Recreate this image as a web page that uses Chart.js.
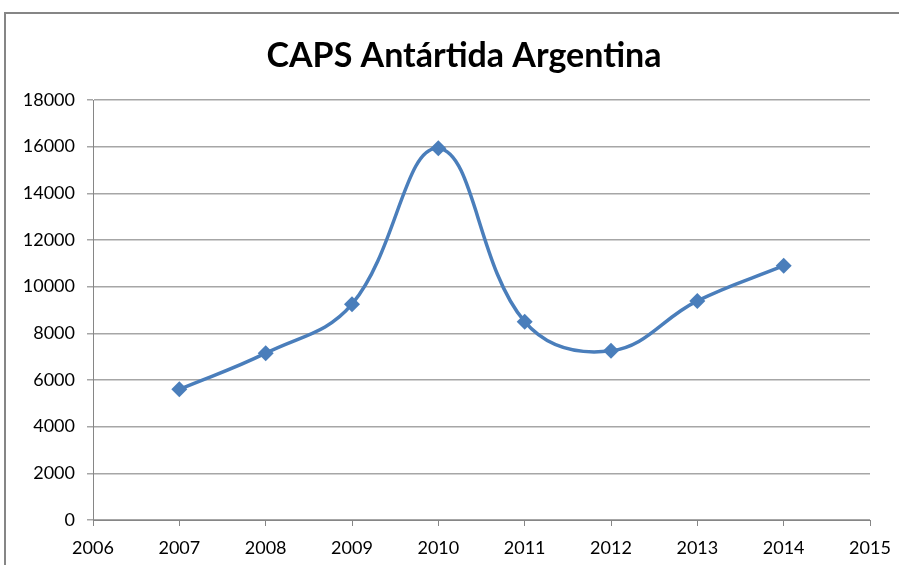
<!DOCTYPE html>
<html>
<head>
<meta charset="utf-8">
<script src="https://cdn.jsdelivr.net/npm/chart.js@4"></script>
<style>
  html, body { margin: 0; padding: 0; background: #fff; overflow: hidden; }
  #wrap { position: relative; width: 899px; height: 565px; }
</style>
</head>
<body>
<div id="wrap"><canvas id="grafico" width="899" height="565"></canvas></div>
<script>
const tituloGrafico = "CAPS Antártida Argentina";
const anos = [2007, 2008, 2009, 2010, 2011, 2012, 2013, 2014];
const valores = [5600, 7150, 9250, 15930, 8500, 7250, 9390, 10900];
const eixoX = { min: 2006, max: 2015, passo: 1 };
const eixoY = { min: 0, max: 18000, passo: 2000 };

const corLinha = "#4a7ebb";
const corGrade = "#a6a6a6";
const fonteTexto = "Lato, 'Open Sans', sans-serif";

// moldura cinza (cortada a direita e embaixo) + titulo centrado como no original
const moldura = {
  id: "moldura",
  beforeDraw(chart) {
    const ctx = chart.ctx;
    ctx.save();
    ctx.fillStyle = "#fff";
    ctx.fillRect(0, 0, chart.width, chart.height);
    ctx.strokeStyle = "#868686";
    ctx.lineWidth = 2;
    ctx.beginPath();
    ctx.moveTo(5, chart.height + 2);
    ctx.lineTo(5, 13);
    ctx.lineTo(chart.width + 2, 13);
    ctx.stroke();

    ctx.fillStyle = "#000";
    ctx.font = "bold 34px " + fonteTexto;
    ctx.textAlign = "center";
    ctx.textBaseline = "alphabetic";
    ctx.fillText(tituloGrafico, 464, 67);
    ctx.restore();
  },
};

const pontos = anos.map((a, i) => ({ x: a, y: valores[i] }));

new Chart(document.getElementById("grafico").getContext("2d"), {
  type: "line",
  data: {
    datasets: [
      {
        data: pontos,
        borderColor: corLinha,
        backgroundColor: corLinha,
        borderWidth: 3.5,
        tension: 0.4,
        pointStyle: "rectRot",
        pointRadius: 8,
        pointBorderWidth: 0,
      },
    ],
  },
  options: {
    responsive: false,
    animation: false,
    layout: { padding: { left: 0, right: 29, top: 100, bottom: 0 } },
    plugins: {
      legend: { display: false },
      tooltip: { enabled: false },
      title: { display: false },
    },
    scales: {
      x: {
        type: "linear",
        min: eixoX.min,
        max: eixoX.max,
        afterFit: (s) => {
          s.height = 45;
          s.paddingLeft = 0;
          s.paddingRight = 0;
        },
        ticks: {
          stepSize: eixoX.passo,
          color: "#000",
          font: { family: fonteTexto, size: 18 },
          padding: 11,
          maxRotation: 0,
          callback: (v) => String(v),
        },
        grid: { drawOnChartArea: false, drawTicks: true, tickLength: 6, color: "#868686" },
        border: { color: "#868686", width: 1 },
      },
      y: {
        min: eixoY.min,
        max: eixoY.max,
        afterFit: (s) => { s.width = 93; },
        ticks: {
          stepSize: eixoY.passo,
          color: "#000",
          font: { family: fonteTexto, size: 18 },
          padding: 12,
          callback: (v) => String(v),
        },
        grid: { color: corGrade, tickLength: 6, lineWidth: 1.5 },
        border: { color: "#868686", width: 1 },
      },
    },
  },
  plugins: [moldura],
});
</script>
</body>
</html>
